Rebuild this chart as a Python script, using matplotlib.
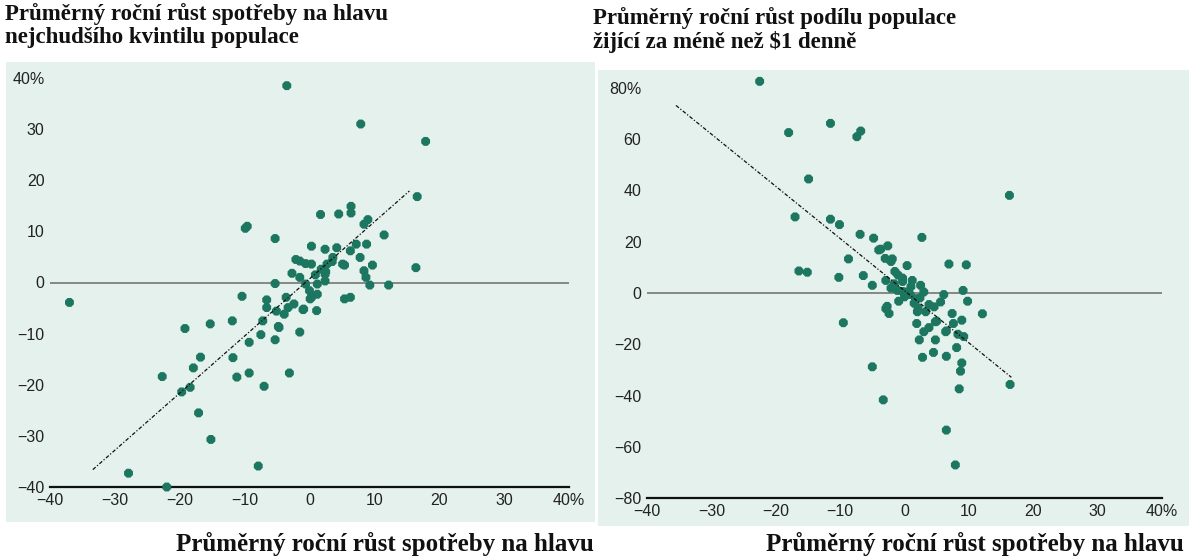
import numpy as np
import matplotlib
matplotlib.use('Agg')
import matplotlib.pyplot as plt
from matplotlib.patches import Rectangle

# Left panel: growth of consumption per capita vs growth of poorest quintile
left_x = [-3.5, 7.9, 17.9, 16.6, 16.4, 12.2, 11.5, -9.6, -9.9, -5.3, -37.0, -10.4,
          -11.9, -15.3, -19.2, -7.5, -9.3, -5.3, -11.8, -16.8, -17.9, -22.7, -11.2,
          -9.3, -3.1, -7.0, -18.4, -19.7, -17.1, -15.2, -7.9, -27.9, -22.0,
          6.4, 6.4, 4.5, 1.7, 8.4, 9.0, 8.8, 9.7, 7.2, 6.3, 4.2, 2.4, 0.3, 5.1, 3.6,
          2.7, 1.8, -2.1, -0.6, 0.3, -2.7, -1.5, -0.6, 0.0, 0.3, 1.2, 2.4, 2.4, 1.2,
          -5.3, 8.4, 8.7, 9.3, 7.8, 5.4, 6.3, -6.6, -6.6, -3.6, -3.3, -2.4, -3.9,
          -0.9, 1.1, -5.1, -7.2, -4.8, -1.5, 0.9, 2.5, 0.1, -1.5, 3.5, 5.4, -4.7, -1.0]
left_y = [38.5, 31.0, 27.6, 16.8, 2.9, -0.5, 9.3, 11.0, 10.6, 8.6, -3.9, -2.7,
          -7.5, -8.1, -9.0, -10.2, -11.7, -11.2, -14.7, -14.6, -16.7, -18.4, -18.5,
          -17.7, -17.7, -20.3, -20.5, -21.4, -25.5, -30.7, -35.9, -37.3, -40.0,
          14.9, 13.6, 13.4, 13.3, 11.4, 12.3, 7.5, 3.4, 7.5, 6.2, 6.8, 6.5, 7.1, 3.6, 4.9,
          3.6, 2.6, 4.5, 3.7, 3.6, 1.8, 1.0, -0.3, -1.6, -2.9, -2.3, 0.3, 1.6, -0.3,
          -0.2, 2.3, 1.0, -0.5, 4.9, -3.2, -2.9, -3.4, -4.9, -2.9, -4.9, -4.2, -6.2,
          -5.2, -5.5, -5.6, -7.5, -8.6, -9.7, 1.5, 2.1, -3.2, 4.2, 4.1, 3.4, -8.8, -5.3]
left_fit_x = [-33.4, 15.4]
left_fit_y = [-36.6, 17.9]

# Right panel: growth of consumption per capita vs growth of share living on < $1 a day
right_x = [-22.5, -18.0, -11.5, -7.4, -6.8, -14.9, 16.3, -17.0, -11.5, -10.1, -8.7,
           -16.4, -15.1, -10.2, -9.5, -5.0, -3.3, 16.4, 8.5, 6.5, 7.9, 12.1, 2.7,
           -6.9, -4.8, -3.7, -2.6, -1.9, 0.4, 6.9, 9.6, -6.4, -5.0, -2.9, -1.6, -0.3,
           1.2, 2.5, 3.0, -1.1, 0.4, 1.7, 6.1, 9.1, 9.8, 5.6, 4.6, 3.3, -2.9, -2.4,
           2.0, 7.4, 8.9, 1.9, 4.8, 7.6, 3.0, 2.3, 6.4, 9.2, 4.8, 8.1, 4.5, 2.8, 6.5,
           8.9, 8.7, -3.0, -2.1, -0.3, -2.1, -0.3, 0.9, 2.4, -0.9, -2.7, 2.1, 3.8,
           -1.5, 1.0, 0.0, 1.5, -1.0, -4.0, 3.8, 6.5, 8.3, 5.0]
right_y = [82.6, 62.6, 66.2, 61.0, 63.2, 44.5, 38.1, 29.7, 28.8, 26.7, 13.3,
           8.6, 8.1, 6.1, -11.6, -28.8, -41.7, -35.7, -37.4, -53.5, -67.1, -8.1, 21.7,
           22.9, 21.4, 17.1, 18.4, 13.3, 10.7, 11.3, 11.0, 6.8, 3.0, 4.9, 3.6, 4.5,
           4.9, 3.0, 0.4, 1.0, 0.4, -2.2, -0.6, 1.0, -3.2, -3.5, -5.4, -7.3, -6.1, -8.0,
           -7.3, -8.0, -10.6, -11.9, -11.2, -11.9, -15.1, -18.3, -15.1, -17.0, -18.3,
           -21.3, -23.2, -25.1, -24.7, -27.3, -30.5, 13.5, 12.3, 5.8, 1.9, 0.6, -0.6,
           -1.9, -3.2, -5.2, -5.8, -4.5, 8.4, 2.5, -1.5, -4.0, 7.0, 16.8, -13.5, -14.8,
           -16.1, -11.0]
right_fit_x = [-35.5, 16.6]
right_fit_y = [73.2, -32.9]

x_ticks = [-40, -30, -20, -10, 0, 10, 20, 30, 40]
x_labels = ['\u221240', '\u221230', '\u221220', '\u221210', '0', '10', '20', '30', '40%']
left_yticks = [-40, -30, -20, -10, 0, 10, 20, 30, 40]
left_ylabels = ['\u221240', '\u221230', '\u221220', '\u221210', '0', '10', '20', '30', '40%']
right_yticks = [-80, -60, -40, -20, 0, 20, 40, 60, 80]
right_ylabels = ['\u221280', '\u221260', '\u221240', '\u221220', '0', '20', '40', '60', '80%']

title_left = 'Průměrný roční růst spotřeby na hlavu\nnejchudšího kvintilu populace'
title_right = 'Průměrný roční růst podílu populace\nžijící za méně než $1 denně'
xtitle = 'Průměrný roční růst spotřeby na hlavu'

W, H = 1189, 559
fig = plt.figure(figsize=(W / 100, H / 100), dpi=100)
fig.patch.set_facecolor('white')

bg = '#e4f1ec'
dot = '#1d7760'

# mint panels behind each chart
fig.patches.append(Rectangle((6 / W, 1 - 522 / H), 589 / W, 460 / H, transform=fig.transFigure,
                             facecolor=bg, edgecolor='none', zorder=-5))
fig.patches.append(Rectangle((598 / W, 1 - 526 / H), 591 / W, 456 / H, transform=fig.transFigure,
                             facecolor=bg, edgecolor='none', zorder=-5))


def panel(rect, xs, ys, fx, fy, yticks, ylabels, ylim):
    ax = fig.add_axes(rect, zorder=2)
    ax.set_facecolor('none')
    for s in ax.spines.values():
        s.set_visible(False)
    ax.set_xlim(-40, 40)
    ax.set_ylim(*ylim)
    ax.axhline(0, color='#7f7f7f', lw=1.3, zorder=1)
    ax.axhline(ylim[0], color='#111111', lw=1.6, zorder=1, clip_on=False)
    ax.scatter(xs, ys, s=48, marker='8', color=dot, edgecolors='none', zorder=3, clip_on=False)
    ax.plot(fx, fy, color='#111111', lw=0.9, linestyle=(0, (3, 1.5, 1, 1.5)), zorder=4)
    ax.set_xticks(x_ticks)
    ax.set_xticklabels(x_labels)
    ax.set_yticks(yticks)
    ax.set_yticklabels(ylabels)
    ax.tick_params(length=0, labelsize=11.5, colors='#222222', pad=4)
    for lab in ax.get_xticklabels() + ax.get_yticklabels():
        lab.set_family(['Liberation Sans', 'DejaVu Sans'])
    return ax


panel([50 / W, 1 - 487 / H, 519 / W, 409 / H], left_x, left_y, left_fit_x, left_fit_y,
      left_yticks, left_ylabels, (-40, 40))
panel([647 / W, 1 - 498 / H, 515 / W, 410 / H], right_x, right_y, right_fit_x, right_fit_y,
      right_yticks, right_ylabels, (-80, 80))

serif = ['Liberation Serif', 'DejaVu Serif']
fig.text(5 / W, 1 - 3 / H, title_left, ha='left', va='top', fontsize=16.5, fontweight='bold',
         family=serif, linespacing=1.12, color='#111111')
fig.text(593 / W, 1 - 7 / H, title_right, ha='left', va='top', fontsize=16.5, fontweight='bold',
         family=serif, linespacing=1.12, color='#111111')
fig.text(594 / W, 1 - 544 / H, xtitle, ha='right', va='center', fontsize=18, fontweight='bold',
         family=serif, color='#111111')
fig.text(1184 / W, 1 - 544 / H, xtitle, ha='right', va='center', fontsize=18, fontweight='bold',
         family=serif, color='#111111')

fig.savefig('out.png', dpi=100, facecolor='white')
